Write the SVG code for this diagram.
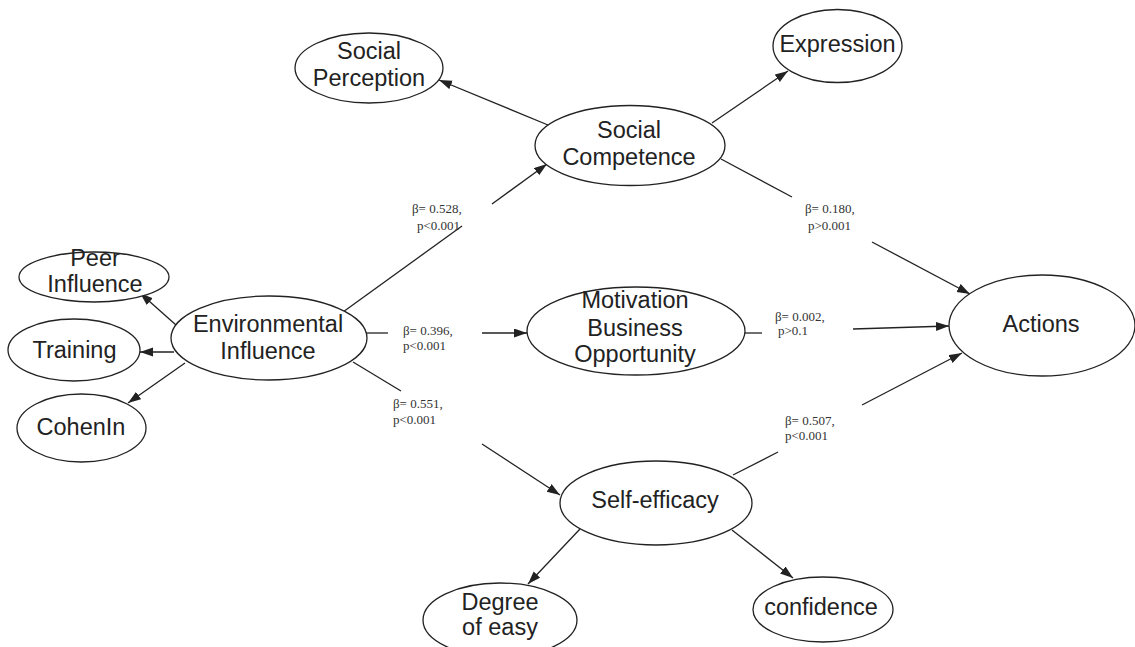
<svg xmlns="http://www.w3.org/2000/svg" width="1135" height="647" viewBox="0 0 1135 647">
<style>
.n ellipse{fill:#fff;stroke:#222;stroke-width:1.3}
.n text{font-family:"Liberation Sans",Arial,sans-serif;font-size:23.5px;fill:#222;text-anchor:middle}
.c line{stroke:#222;stroke-width:1.3;fill:none}
.c line.a{marker-end:url(#ah)}
.l text{font-family:"Liberation Serif","Times New Roman",serif;font-size:13px;fill:#333}
</style>
<defs>
<marker id="ah" markerUnits="userSpaceOnUse" markerWidth="14" markerHeight="10" refX="13" refY="4.5" orient="auto">
<path d="M0,0 L13,4.5 L0,9 z" fill="#222"/>
</marker>
</defs>
<rect width="1135" height="647" fill="#fff"/>
<g class="c" id="connectors">
<line class="a" x1="548" y1="125" x2="439" y2="80"/>
<line class="a" x1="712" y1="123" x2="788" y2="71"/>
<line x1="343" y1="312" x2="462" y2="226"/>
<line class="a" x1="492" y1="204" x2="547" y2="164"/>
<line x1="366" y1="333" x2="388" y2="333"/>
<line class="a" x1="482" y1="333" x2="527" y2="333"/>
<line x1="353" y1="362" x2="401" y2="391"/>
<line class="a" x1="482" y1="444" x2="560" y2="495"/>
<line x1="721" y1="159" x2="792" y2="197"/>
<line class="a" x1="872" y1="242" x2="970" y2="294"/>
<line x1="745" y1="333" x2="762" y2="333"/>
<line class="a" x1="853" y1="329" x2="949" y2="326"/>
<line x1="733" y1="475" x2="778" y2="452"/>
<line class="a" x1="862" y1="405" x2="962" y2="353"/>
<line class="a" x1="176" y1="325" x2="140" y2="293"/>
<line class="a" x1="174" y1="352" x2="140" y2="352"/>
<line class="a" x1="185" y1="363" x2="128" y2="403"/>
<line class="a" x1="580" y1="529" x2="528" y2="584"/>
<line class="a" x1="732" y1="530" x2="793" y2="578"/>
</g>
<g class="l" id="labels">
<text x="412" y="213">β= 0.528,</text><text x="417" y="230">p&lt;0.001</text>
<text x="805" y="213">β= 0.180,</text><text x="808" y="230">p&gt;0.001</text>
<text x="403" y="335">β= 0.396,</text><text x="403" y="350">p&lt;0.001</text>
<text x="775" y="321">β= 0.002,</text><text x="778" y="335">p&gt;0.1</text>
<text x="393" y="408">β= 0.551,</text><text x="393" y="424">p&lt;0.001</text>
<text x="785" y="425">β= 0.507,</text><text x="785" y="440">p&lt;0.001</text>
</g>
<g class="n" id="social-perception"><ellipse cx="369" cy="68" rx="74" ry="35"/><text x="369" y="59">Social</text><text x="369" y="86">Perception</text></g>
<g class="n" id="expression"><ellipse cx="837.5" cy="46" rx="64.5" ry="36.5"/><text x="837.5" y="52">Expression</text></g>
<g class="n" id="social-competence"><ellipse cx="630" cy="145.5" rx="95" ry="40"/><text x="629" y="138">Social</text><text x="629" y="165">Competence</text></g>
<g class="n" id="environmental-influence"><ellipse cx="269" cy="338" rx="98" ry="42"/><text x="268" y="332">Environmental</text><text x="268" y="359">Influence</text></g>
<g class="n" id="peer-influence"><ellipse cx="94" cy="277" rx="75" ry="25"/><text x="95" y="266">Peer</text><text x="95" y="292">Influence</text></g>
<g class="n" id="training"><ellipse cx="74" cy="350" rx="66" ry="31"/><text x="74.5" y="358">Training</text></g>
<g class="n" id="cohenin"><ellipse cx="81.5" cy="428" rx="64.5" ry="34"/><text x="81" y="435">CohenIn</text></g>
<g class="n" id="motivation"><ellipse cx="636" cy="331" rx="109" ry="44"/><text x="635" y="308">Motivation</text><text x="635" y="336">Business</text><text x="635" y="362">Opportunity</text></g>
<g class="n" id="actions"><ellipse cx="1042" cy="325.5" rx="93" ry="50.5"/><text x="1041" y="332">Actions</text></g>
<g class="n" id="self-efficacy"><ellipse cx="656" cy="503" rx="96" ry="42"/><text x="655" y="508">Self-efficacy</text></g>
<g class="n" id="degree-of-easy"><ellipse cx="500" cy="620" rx="77" ry="37"/><text x="500" y="610">Degree</text><text x="500" y="635">of easy</text></g>
<g class="n" id="confidence"><ellipse cx="823" cy="609.5" rx="70" ry="32.5"/><text x="821" y="615">confidence</text></g>
</svg>
